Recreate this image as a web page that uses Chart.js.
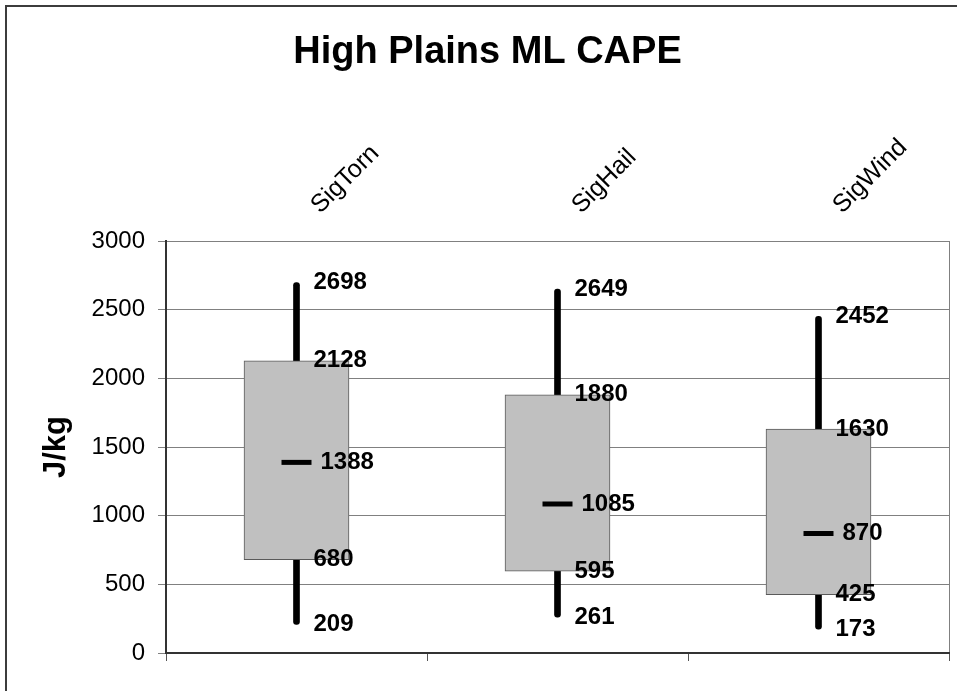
<!DOCTYPE html>
<html>
<head>
<meta charset="utf-8">
<script src="https://cdn.jsdelivr.net/npm/chart.js@4"></script>
<style>
    html, body { margin: 0; padding: 0; background: #fff; overflow: hidden; width: 957px; height: 691px; }
    #frame { position: absolute; left: 5px; top: 5px; width: 1000px; height: 1000px; border: 2px solid #3c3c3c; }
    #capeChart { position: absolute; left: 0; top: 0; }
</style>
</head>
<body>
<div id="frame"></div>
<canvas id="capeChart" width="957" height="691"></canvas>
<script>
// Box plot values (J/kg)
const categories = ['SigTorn', 'SigHail', 'SigWind'];
const minValues = [209, 261, 173];
const q1Values = [680, 595, 425];
const medianValues = [1388, 1085, 870];
const q3Values = [2128, 1880, 1630];
const maxValues = [2698, 2649, 2452];
const yTicks = [0, 500, 1000, 1500, 2000, 2500, 3000];

const FONT = '"Liberation Sans", Arial, sans-serif';

// Bold value labels next to each whisker / median
const valueLabels = {
    id: 'valueLabels',
    afterDatasetsDraw(chart) {
        const { ctx, scales: { x, y } } = chart;
        ctx.save();
        ctx.font = 'bold 24px ' + FONT;
        ctx.fillStyle = '#000';
        ctx.textAlign = 'left';
        ctx.textBaseline = 'middle';
        categories.forEach((c, i) => {
            const cx = x.getPixelForValue(i);
            [minValues[i], q1Values[i], q3Values[i], maxValues[i]].forEach(v => {
                ctx.fillText(String(v), cx + 17, y.getPixelForValue(v));
            });
            ctx.fillText(String(medianValues[i]), cx + 24, y.getPixelForValue(medianValues[i]));
        });
        ctx.restore();
    }
};

const ctxCape = document.getElementById('capeChart').getContext('2d');

new Chart(ctxCape, {
    type: 'bar',
    data: {
        labels: categories,
        datasets: [
            {
                // whiskers (behind the box)
                label: 'range',
                data: categories.map((c, i) => [minValues[i], maxValues[i]]),
                backgroundColor: '#000',
                barThickness: 6,
                borderRadius: 3,
                borderSkipped: false,
                grouped: false,
                order: 3
            },
            {
                label: 'box',
                data: categories.map((c, i) => [q1Values[i], q3Values[i]]),
                backgroundColor: '#c0c0c0',
                borderColor: '#5a5a5a',
                borderWidth: 1,
                borderSkipped: false,
                barThickness: 105,
                grouped: false,
                order: 2
            },
            {
                type: 'line',
                label: 'median',
                data: medianValues,
                showLine: false,
                pointStyle: 'line',
                pointRadius: 15,
                pointBorderWidth: 5,
                pointBorderColor: '#000',
                order: 1
            }
        ]
    },
    options: {
        responsive: false,
        animation: false,
        events: [],
        layout: { autoPadding: false, padding: { left: 26, right: 8, top: 0, bottom: 30 } },
        plugins: {
            legend: { display: false },
            tooltip: { enabled: false },
            title: {
                display: true,
                text: 'High Plains ML CAPE',
                color: '#000',
                font: { family: FONT, size: 38, weight: 'bold' },
                padding: { top: 30, bottom: 0 }
            }
        },
        scales: {
            x: {
                type: 'category',
                position: 'bottom',
                offset: true,
                grid: {
                    offset: true,
                    drawOnChartArea: true,
                    color: c => (c.type === 'tick' ? 'rgba(0,0,0,0)' : '#808080'),
                    tickColor: '#555',
                    tickLength: 8
                },
                border: { display: true, color: '#333', width: 2 },
                ticks: { display: false },
                afterFit: s => { s.height = 8; s.paddingLeft = 0; s.paddingRight = 0; }
            },
            x2: {
                type: 'category',
                labels: categories,
                position: 'top',
                offset: true,
                grid: { display: false },
                border: { display: false },
                ticks: {
                    autoSkip: false,
                    minRotation: 45,
                    maxRotation: 45,
                    padding: 13,
                    labelOffset: 40,
                    color: '#000',
                    font: { family: FONT, size: 25 }
                },
                // rotated labels would otherwise push the plot area in from the right
                afterFit: s => { s.height = 241 - 75.6; s.paddingLeft = 0; s.paddingRight = 0; }
            },
            y: {
                min: 0,
                max: 3000,
                afterBuildTicks: s => { s.ticks = yTicks.map(v => ({ value: v })); },
                grid: { color: '#808080', tickColor: '#808080', tickLength: 8 },
                border: { color: '#333', width: 2 },
                ticks: {
                    padding: 13,
                    color: '#000',
                    font: { family: FONT, size: 24 },
                    callback: v => String(v)
                },
                title: {
                    display: true,
                    text: 'J/kg',
                    color: '#000',
                    font: { family: FONT, size: 31, weight: 'bold' },
                    padding: { top: 12, bottom: 0 }
                },
                afterFit: s => { s.width = 140; }
            }
        }
    },
    plugins: [valueLabels]
});
</script>
</body>
</html>
